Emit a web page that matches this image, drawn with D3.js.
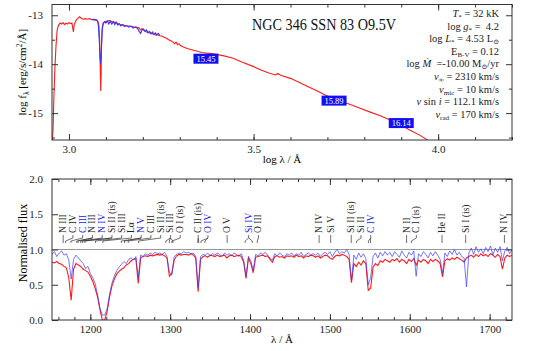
<!DOCTYPE html>
<html>
<head>
<meta charset="utf-8">
<script src="https://cdn.jsdelivr.net/npm/d3@7"></script>
<style>
	body	{ margin: 0; background: #fff; font-family: 'Liberation Serif', 'DejaVu Serif', serif; }
	svg		{ display: block; }
	svg text	{ font-family: 'Liberation Serif', 'DejaVu Serif', serif; }
	.frame	{ fill: none; stroke: #333; stroke-width: 1px; }
	.axis path	{ display: none; }
	.axis line	{ stroke: #333; }
	.axis text	{ font-family: 'Liberation Serif', 'DejaVu Serif', serif; font-size: 11px; fill: #222; }
</style>
</head>
<body>
<div id="chart"></div>
<script>
// SED panel: model (red) and observed UV (blue), [log lambda, log f]
let sedModel = [
	[2.955,-15.6],[2.957,-15.3],[2.959,-14.7],[2.962,-14.06],[2.965,-13.6],[2.968,-13.3],[2.972,-13.2],[2.976,-13.16],
	[2.980,-13.18],[2.984,-13.15],[2.988,-13.19],[2.992,-13.16],[2.996,-13.18],[3.000,-13.15],[3.004,-13.17],[3.008,-13.16],
	[3.010,-13.25],[3.012,-13.34],[3.014,-13.2],[3.018,-13.12],[3.022,-13.08],[3.026,-13.05],[3.029,-13.03],[3.033,-13.06],
	[3.038,-13.08],[3.044,-13.07],[3.050,-13.08],[3.056,-13.07],[3.062,-13.09],[3.068,-13.09],[3.074,-13.1],[3.078,-13.12],
	[3.081,-13.2],[3.083,-13.5],[3.085,-14.2],[3.086,-14.55],[3.087,-14.2],[3.088,-13.6],[3.090,-13.25],[3.093,-13.15],
	[3.098,-13.13],[3.104,-13.12],[3.110,-13.11],[3.116,-13.13],[3.122,-13.14],[3.128,-13.15],[3.134,-13.18],[3.140,-13.19],
	[3.146,-13.2],[3.152,-13.21],[3.158,-13.22],[3.164,-13.22],[3.170,-13.23],[3.176,-13.24],[3.182,-13.24],[3.188,-13.25],
	[3.194,-13.3],[3.198,-13.27],[3.204,-13.32],[3.210,-13.34],[3.216,-13.35],[3.222,-13.37],[3.228,-13.38],[3.234,-13.4],
	[3.240,-13.4],[3.246,-13.42],[3.252,-13.43],[3.258,-13.45],[3.264,-13.47],[3.270,-13.5],[3.276,-13.52],[3.282,-13.55],
	[3.286,-13.58],[3.290,-13.55],[3.294,-13.6],[3.298,-13.58],[3.302,-13.62],[3.310,-13.65],[3.320,-13.68],[3.330,-13.7],
	[3.340,-13.72],[3.350,-13.74],[3.360,-13.76],[3.370,-13.77],[3.380,-13.78],[3.390,-13.79],[3.400,-13.8],[3.420,-13.83],
	[3.445,-13.88],[3.470,-13.96],[3.500,-14.05],[3.520,-14.12],[3.545,-14.19],[3.560,-14.22],[3.565,-14.19],[3.575,-14.23],
	[3.600,-14.29],[3.620,-14.36],[3.645,-14.45],[3.670,-14.54],[3.694,-14.63],[3.720,-14.71],[3.753,-14.8],[3.785,-14.89],
	[3.816,-14.98],[3.845,-15.06],[3.870,-15.14],[3.900,-15.25],[3.924,-15.35],[3.950,-15.45],[3.975,-15.57]
];
let sedObs = [
	[3.062,-13.09],[3.066,-13.08],[3.070,-13.1],[3.074,-13.09],[3.078,-13.13],[3.080,-13.25],[3.082,-13.5],[3.084,-13.85],
	[3.086,-13.98],[3.088,-13.7],[3.090,-13.3],[3.093,-13.17],[3.097,-13.13],[3.100,-13.16],[3.104,-13.12],[3.108,-13.18],
	[3.112,-13.12],[3.116,-13.18],[3.120,-13.13],[3.124,-13.19],[3.128,-13.14],[3.132,-13.2],[3.136,-13.17],[3.140,-13.22],
	[3.146,-13.19],[3.150,-13.23],[3.156,-13.21],[3.162,-13.24],[3.168,-13.22],[3.174,-13.26],[3.180,-13.24],[3.186,-13.27],
	[3.190,-13.33],[3.194,-13.37],[3.198,-13.3],[3.202,-13.28],[3.206,-13.33],[3.210,-13.3],[3.214,-13.36],[3.218,-13.33],
	[3.222,-13.38],[3.226,-13.34],[3.230,-13.39],[3.234,-13.36],[3.238,-13.4],[3.242,-13.37],[3.246,-13.41]
];

// photometry boxes
let photLogLam	= [3.371, 3.718, 3.900];
let photLogF	= [-13.888, -14.745, -15.204];
let photMag		= ['15.45', '15.89', '16.14'];

// normalised UV spectrum, sampled from normStart every normStep Angstrom
let normStart	= 1152;
let normStep	= 3;
let normModel = [
	0.82,0.81,0.83,0.80,0.79,0.76,0.74,0.60,0.28,0.72,
	0.80,0.78,0.76,0.72,0.70,0.68,0.62,0.55,0.45,0.33,
	0.15,0.00,0.00,0.12,0.32,0.48,0.58,0.65,0.69,0.72,
	0.74,0.78,0.80,0.84,0.86,0.87,0.52,0.88,0.90,0.91,
	0.90,0.92,0.91,0.92,0.93,0.92,0.93,0.91,0.88,0.62,
	0.66,0.85,0.91,0.93,0.92,0.93,0.93,0.92,0.94,0.92,
	0.88,0.40,0.86,0.90,0.91,0.89,0.92,0.91,0.90,0.92,
	0.90,0.91,0.92,0.88,0.91,0.92,0.90,0.91,0.92,0.90,
	0.82,0.59,0.88,0.80,0.67,0.89,0.90,0.91,0.92,0.90,
	0.91,0.86,0.82,0.90,0.91,0.89,0.90,0.88,0.91,0.90,
	0.91,0.89,0.92,0.90,0.91,0.88,0.91,0.90,0.92,0.91,
	0.89,0.91,0.88,0.90,0.92,0.91,0.88,0.86,0.90,0.92,
	0.91,0.93,0.92,0.90,0.86,0.53,0.80,0.76,0.82,0.78,
	0.84,0.80,0.42,0.45,0.75,0.80,0.77,0.84,0.82,0.86,
	0.84,0.82,0.86,0.84,0.87,0.82,0.86,0.84,0.80,0.86,
	0.83,0.87,0.78,0.85,0.82,0.86,0.84,0.80,0.86,0.83,
	0.86,0.84,0.80,0.61,0.84,0.87,0.85,0.88,0.86,0.89,
	0.87,0.85,0.82,0.88,0.90,0.92,0.89,0.93,0.90,0.94,
	0.91,0.93,0.90,0.94,0.92,0.89,0.93,0.90,0.72,0.88,
	0.92,0.90,0.92
];
let normObs = [
	0.93,0.97,0.90,0.95,0.98,0.92,0.94,0.85,0.58,0.86,
	0.92,0.88,0.84,0.80,0.73,0.76,0.66,0.60,0.52,0.36,
	0.17,0.07,0.07,0.16,0.36,0.52,0.62,0.70,0.75,0.79,
	0.83,0.80,0.86,0.88,0.85,0.90,0.60,0.92,0.90,0.94,
	0.92,0.95,0.93,0.96,0.94,0.95,0.93,0.96,0.90,0.68,
	0.64,0.90,0.93,0.95,0.94,0.97,0.95,0.96,0.94,0.95,
	0.90,0.46,0.90,0.93,0.92,0.95,0.91,0.94,0.92,0.95,
	0.93,0.90,0.95,0.92,0.94,0.91,0.95,0.93,0.90,0.94,
	0.85,0.62,0.90,0.84,0.70,0.93,0.91,0.95,0.93,0.96,
	0.92,0.88,0.85,0.94,0.91,0.95,0.92,0.90,0.94,0.92,
	0.95,0.91,0.94,0.92,0.96,0.90,0.93,0.95,0.92,0.94,
	0.92,0.95,0.90,0.94,0.96,0.93,0.97,0.90,0.96,1.00,
	0.94,0.97,0.95,1.00,0.93,0.56,0.92,0.86,0.95,0.89,
	0.94,0.87,0.50,0.60,0.90,0.95,0.88,0.96,0.91,0.97,
	0.92,0.96,0.90,0.97,0.93,0.89,0.98,0.92,0.88,0.96,
	0.92,0.98,0.62,0.94,0.90,0.97,0.93,0.88,0.96,0.91,
	0.97,0.92,0.86,0.66,0.95,0.90,0.98,0.93,1.00,0.92,
	0.96,0.90,0.88,0.47,0.95,1.02,0.93,1.04,0.96,1.01,
	0.94,1.03,0.97,1.05,0.92,1.02,0.96,1.04,0.84,0.98,
	1.03,0.94,0.99
];

// line identifications
let lineNames	= ['N III','C IV','C III','N III','N IV','Si II (is)','Si III','Lα','N V','C III','Si II (is)','Si III','O I (is)',
	'C II (is)','O IV','O V','Si IV','O III','N IV','Si V','Si II (is)','Si II','C IV','N II','C I (is)','He II','Si I (is)','N IV'];
let lineWaves	= [[1166],[1169],[1175.7],[1183,1184.5],[1188],[1190.4,1193.3],[1206.5],[1215.7],[1238.8,1242.8],[1247.4],[1260.4],
	[1294.5,1298.9,1303.3],[1302.2],[1334.5,1335.7],[1338.6,1343.5],[1371.3],[1393.8,1402.8],[1409],[1486.5],[1501],[1526.7],
	[1533.4],[1548.2,1550.8],[1596],[1602],[1640.4],[1670],[1718.5]];
let lineBlue	= [0,0,1,0,1,0,0,0,1,0,0,0,0,0,1,0,1,0,0,0,0,0,1,0,0,0,0,0];

let paramLines = [
	[['T','i'],['*','s'],[' = 32 kK','']],
	[['log ',''],['g','i'],['*','s'],[' =  4.2','']],
	[['log ',''],['L','i'],['*','s'],[' = 4.53 L',''],['⊙','s']],
	[['E',''],['B-V','s'],[' = 0.12','']],
	[['log ',''],['Ṁ','i'],['  =-10.00 M',''],['⊙','s'],['/yr','']],
	[['v','i'],['∞','s'],[' = 2310 km/s','']],
	[['v','i'],['mic','s'],[' = 10 km/s','']],
	[['v','i'],[' sin ',''],['i','i'],[' = 112.1 km/s','']],
	[['v','i'],['rad','s'],[' = 170 km/s','']]
];

let serif	= "'Liberation Serif', 'DejaVu Serif', serif";
let width	= 538;
let height	= 351;

let svg = d3.select('#chart').append('svg')
	.attr('width', width)
	.attr('height', height)
	.attr('font-family', serif)
	.style('font-family', serif);

let sedBox	= { left: 52, right: 512, top: 4.5, bottom: 140 };
let normBox	= { left: 52, right: 512, top: 179, bottom: 320 };

let xSed	= d3.scaleLinear().domain([2.954, 4.2]).range([sedBox.left, sedBox.right]);
let ySed	= d3.scaleLinear().domain([-15.55, -12.78]).range([sedBox.bottom, sedBox.top]);
let xNorm	= d3.scaleLinear().domain([1152, 1728]).range([normBox.left, normBox.right]);
let yNorm	= d3.scaleLinear().domain([0, 2]).range([normBox.bottom, normBox.top]);

function addClip(id, box) {
	svg.append('clipPath').attr('id', id).append('rect')
		.attr('x', box.left)
		.attr('y', box.top)
		.attr('width', box.right - box.left)
		.attr('height', box.bottom - box.top);
}

function drawAxes(box, x, y, xMajor, xMinor, yMajor, yMinor, xFmt, yFmt) {
	let g = svg.append('g');

	g.append('g').attr('class', 'axis').attr('transform', 'translate(0,' + box.bottom + ')')
		.call(d3.axisBottom(x).tickValues(xMajor).tickSize(-6).tickPadding(5).tickFormat(xFmt));
	g.append('g').attr('class', 'axis').attr('transform', 'translate(0,' + box.bottom + ')')
		.call(d3.axisBottom(x).tickValues(xMinor).tickSize(-3).tickFormat(''));
	g.append('g').attr('class', 'axis').attr('transform', 'translate(0,' + box.top + ')')
		.call(d3.axisTop(x).tickValues(xMajor).tickSize(-6).tickFormat(''));
	g.append('g').attr('class', 'axis').attr('transform', 'translate(0,' + box.top + ')')
		.call(d3.axisTop(x).tickValues(xMinor).tickSize(-3).tickFormat(''));

	g.append('g').attr('class', 'axis').attr('transform', 'translate(' + box.left + ',0)')
		.call(d3.axisLeft(y).tickValues(yMajor).tickSize(-6).tickPadding(9).tickFormat(yFmt));
	g.append('g').attr('class', 'axis').attr('transform', 'translate(' + box.left + ',0)')
		.call(d3.axisLeft(y).tickValues(yMinor).tickSize(-3).tickFormat(''));
	g.append('g').attr('class', 'axis').attr('transform', 'translate(' + box.right + ',0)')
		.call(d3.axisRight(y).tickValues(yMajor).tickSize(-6).tickFormat(''));
	g.append('g').attr('class', 'axis').attr('transform', 'translate(' + box.right + ',0)')
		.call(d3.axisRight(y).tickValues(yMinor).tickSize(-3).tickFormat(''));

	g.selectAll('.axis').attr('font-family', serif);

	g.append('rect')
		.attr('class', 'frame')
		.attr('x', box.left)
		.attr('y', box.top)
		.attr('width', box.right - box.left)
		.attr('height', box.bottom - box.top);
}

function drawSed() {
	addClip('clip-sed', sedBox);

	let line = d3.line().x(d => xSed(d[0])).y(d => ySed(d[1]));
	let g = svg.append('g').attr('clip-path', 'url(#clip-sed)');

	g.append('path').datum(sedModel)
		.attr('d', line)
		.attr('fill', 'none')
		.attr('stroke', '#ff1a1a')
		.attr('stroke-width', 1.1);

	g.append('path').datum(sedObs)
		.attr('d', line)
		.attr('fill', 'none')
		.attr('stroke', '#3838ff')
		.attr('stroke-width', 1.1);

	let phot = svg.append('g').selectAll('g').data(photMag).enter().append('g')
		.attr('transform', (d, i) => 'translate(' + xSed(photLogLam[i]) + ',' + ySed(photLogF[i]) + ')');
	phot.append('rect')
		.attr('x', -12.5).attr('y', -5)
		.attr('width', 25).attr('height', 10)
		.attr('fill', '#1010f0');
	phot.append('text')
		.attr('y', 3)
		.attr('text-anchor', 'middle')
		.attr('fill', '#fff')
		.style('font-size', '8.5px')
		.text(d => d);

	drawAxes(sedBox, xSed, ySed, [3.0, 3.5, 4.0], d3.range(30, 43).map(v => v / 10),
		[-15, -14, -13], [-15.5, -14.5, -13.5], d => d.toFixed(1), d => d);

	svg.append('text')
		.attr('x', 252).attr('y', 30)
		.attr('textLength', 144)
		.attr('lengthAdjust', 'spacingAndGlyphs')
		.style('font-size', '17px')
		.attr('fill', '#111')
		.text('NGC 346 SSN 83 O9.5V');

	let params = svg.append('g').style('font-size', '10.5px').attr('fill', '#222');
	paramLines.forEach((segs, i) => {
		let t = params.append('text')
			.attr('x', 499)
			.attr('y', 17 + i * 12.6)
			.attr('text-anchor', 'end')
			.style('white-space', 'pre');
		let shifted = false;
		segs.forEach(s => {
			let ts = t.append('tspan').text(s[0]);
			if (s[1] === 'i') ts.style('font-style', 'italic');
			if (s[1] === 's') {
				ts.style('font-size', '7px');
				if (!shifted) { ts.attr('dy', 2); shifted = true; }
			} else if (shifted) {
				ts.attr('dy', -2);
				shifted = false;
			}
		});
	});

	svg.append('text')
		.attr('x', (sedBox.left + sedBox.right) / 2)
		.attr('y', 163)
		.attr('text-anchor', 'middle')
		.style('font-size', '11px')
		.text('log λ / Å');

	let yl = svg.append('text')
		.attr('transform', 'translate(26,' + ((sedBox.top + sedBox.bottom) / 2) + ') rotate(-90)')
		.attr('text-anchor', 'middle')
		.style('font-size', '11px');
	yl.append('tspan').text('log f');
	yl.append('tspan').attr('dy', 2.5).style('font-size', '7.5px').text('λ');
	yl.append('tspan').attr('dy', -2.5).text(' [erg/s/cm');
	yl.append('tspan').attr('dy', -4).style('font-size', '7.5px').text('2');
	yl.append('tspan').attr('dy', 4).text('/Å]');
}

function drawNorm() {
	addClip('clip-norm', normBox);

	let line = d3.line().x((d, i) => xNorm(normStart + i * normStep)).y(d => yNorm(d));
	let g = svg.append('g').attr('clip-path', 'url(#clip-norm)');

	g.append('line')
		.attr('x1', normBox.left).attr('x2', normBox.right)
		.attr('y1', yNorm(1)).attr('y2', yNorm(1))
		.attr('stroke', '#999')
		.attr('stroke-width', 1);

	g.append('path').datum(normModel)
		.attr('d', line)
		.attr('fill', 'none')
		.attr('stroke', '#ff1a1a')
		.attr('stroke-width', 1.1);

	g.append('path').datum(normObs)
		.attr('d', line)
		.attr('fill', 'none')
		.attr('stroke', '#3a3aff')
		.attr('stroke-opacity', 0.7)
		.attr('stroke-width', 1);

	drawAxes(normBox, xNorm, yNorm, d3.range(1200, 1701, 100), d3.range(1160, 1728, 20),
		[0, 0.5, 1, 1.5, 2], [], d => d, d => d.toFixed(1));

	// line id labels, pushed right so they keep a minimum gap
	let labelGap	= 9.75;
	let labelY		= 233;
	let prev		= -Infinity;
	let labelX		= lineNames.map((n, i) => {
		let lx = Math.max(xNorm(d3.mean(lineWaves[i])), prev + labelGap);
		prev = lx;
		return lx;
	});

	let ids = svg.append('g').attr('stroke', '#333').attr('stroke-width', 0.7);
	lineNames.forEach((n, i) => {
		let lx = labelX[i];
		ids.append('line').attr('x1', lx).attr('x2', lx).attr('y1', labelY + 2).attr('y2', labelY + 5);
		lineWaves[i].forEach(w => {
			let wx = xNorm(w);
			ids.append('line').attr('x1', lx).attr('x2', wx).attr('y1', labelY + 5).attr('y2', labelY + 8);
			ids.append('line').attr('x1', wx).attr('x2', wx).attr('y1', labelY + 8).attr('y2', labelY + 10);
		});
	});

	svg.append('g').selectAll('text').data(lineNames).enter().append('text')
		.attr('transform', (d, i) => 'translate(' + (labelX[i] + 3) + ',' + labelY + ') rotate(-90)')
		.attr('fill', (d, i) => lineBlue[i] ? '#2020ee' : '#222')
		.style('font-size', '9.5px')
		.text(d => d);

	svg.append('text')
		.attr('x', (normBox.left + normBox.right) / 2)
		.attr('y', 343)
		.attr('text-anchor', 'middle')
		.style('font-size', '11px')
		.text('λ / Å');

	svg.append('text')
		.attr('transform', 'translate(27,243) rotate(-90)')
		.attr('text-anchor', 'middle')
		.style('font-size', '12px')
		.text('Normalised flux');
}

drawSed();
drawNorm();
</script>
</body>
</html>
